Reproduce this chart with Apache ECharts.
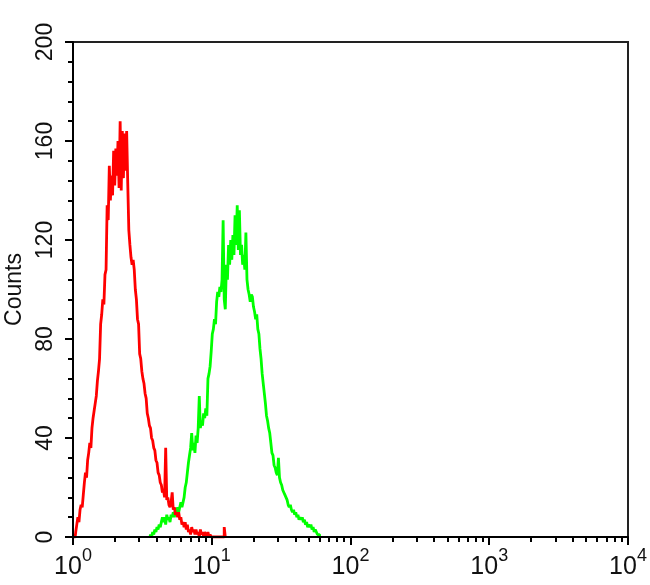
<!DOCTYPE html>
<html>
<head>
<meta charset="utf-8">
<script src="https://cdn.jsdelivr.net/npm/echarts@6/dist/echarts.min.js"></script>
<style>
html,body{margin:0;padding:0;background:#fff;}
#chart{width:650px;height:585px;}
</style>
</head>
<body>
<div id="chart"></div>
<script>
// Channel resolution: 128 channels per decade (log-amplified FCS channels)
var channelsPerDecade = 128;
// Red histogram counts, starting at channel 0
var redStartChannel = 0;
var redCounts = [0, 0, 0, 2, 5, 8, 6, 11, 13, 12, 17, 22, 26, 24, 31, 34, 38, 36, 44, 48,
  51, 54, 57, 63, 67, 72, 86, 90, 96, 94, 106, 108, 134, 128, 150, 136, 146, 138, 156, 142,
  157, 146, 160, 141, 168, 140, 164, 145, 163, 148, 164, 143, 124, 118, 113, 110, 112, 108, 100, 96,
  88, 86, 74, 72, 67, 64, 62, 58, 56, 50, 48, 45, 44, 40, 39, 36, 35, 31, 30, 26,
  25, 22, 21, 18, 19, 16, 36, 15, 16, 13, 12, 14, 18, 11, 12, 9, 10, 8, 10, 7,
  8, 5, 6, 4, 6, 3, 5, 2, 3, 1, 4, 2, 3, 1, 3, 1, 2, 0, 3, 1,
  2, 0, 2, 1, 0, 2, 0, 1, 0, 0, 0, 0, 0, 0, 0, 0, 0, 0, 0, 0, 4, 0];
// Green histogram counts, starting at channel 71
var greenStartChannel = 71;
var greenCounts = [0, 1, 0, 2, 1, 3, 2, 4, 3, 5, 4, 6, 8, 6, 8, 5, 9, 7, 8, 6,
  9, 8, 10, 8, 11, 9, 12, 10, 12, 14, 12, 14, 16, 20, 22, 26, 30, 33, 36, 42,
  35, 38, 34, 41, 38, 44, 57, 44, 47, 45, 50, 48, 52, 49, 64, 66, 69, 75, 82, 84,
  88, 86, 95, 99, 97, 101, 99, 104, 128, 96, 92, 110, 104, 118, 110, 120, 112, 122, 114, 130,
  118, 134, 116, 132, 114, 118, 110, 114, 108, 123, 104, 100, 98, 95, 98, 97, 93, 91, 88, 90,
  84, 82, 76, 72, 66, 62, 58, 54, 49, 47, 44, 42, 38, 34, 33, 29, 28, 26, 25, 32,
  24, 22, 21, 19, 18, 17, 16, 15, 13, 12, 13, 11, 10, 11, 9, 10, 8, 9, 7, 8,
  7, 8, 6, 7, 5, 6, 4, 5, 4, 5, 3, 4, 2, 3, 2, 1, 1, 0];
// Axis ticks
var xMajorTicks = [1, 10, 100, 1000, 10000];
var xMinorTicks = [2,3,4,5,6,7,8,9,20,30,40,50,60,70,80,90,200,300,400,500,600,700,800,900,2000,3000,4000,5000,6000,7000,8000,9000];
var yMin = 0, yMax = 200, yInterval = 40;

function toPairs(start, counts) {
  var out = [];
  for (var i = 0; i < counts.length; i++) {
    out.push([Math.pow(10, (start + i) / channelsPerDecade), counts[i]]);
  }
  return out;
}

var font = '"Liberation Sans", Arial, Helvetica, sans-serif';
var chart = echarts.init(document.getElementById('chart'), null, {renderer: 'canvas'});
chart.setOption({
  animation: false,
  backgroundColor: '#ffffff',
  grid: {
    left: 73, top: 42, right: 22, bottom: 48,
    containLabel: false, outerBoundsMode: 'none',
    show: true, borderColor: '#222', borderWidth: 2, backgroundColor: 'transparent'
  },
  xAxis: [{
    type: 'log', logBase: 10, min: 1, max: 10000, position: 'bottom', z: 10,
    axisLine: {show: true, onZero: false, lineStyle: {color: '#000', width: 2}},
    axisTick: {show: true, inside: false, length: 8, lineStyle: {color: '#000', width: 2}, customValues: xMajorTicks},
    axisLabel: {
      show: true, margin: 10, customValues: xMajorTicks,
      formatter: function (v) { return '{b|10}{s|' + Math.round(Math.log10(v)) + '}'; },
      rich: {
        b: {fontSize: 25, lineHeight: 40, color: '#111', fontFamily: font},
        s: {fontSize: 18, lineHeight: 18, verticalAlign: 'top', color: '#111', fontFamily: font}
      }
    },
    splitLine: {show: false}
  }, {
    type: 'log', logBase: 10, min: 1, max: 10000, position: 'bottom', offset: 0, z: 10,
    axisLine: {show: false},
    axisTick: {show: true, inside: false, length: 5, lineStyle: {color: '#000', width: 2}, customValues: xMinorTicks},
    axisLabel: {show: false},
    splitLine: {show: false}
  }],
  yAxis: [{
    type: 'value', min: yMin, max: yMax, interval: yInterval, position: 'left', z: 10,
    name: 'Counts', nameLocation: 'middle', nameRotate: 90, nameGap: 46,
    nameTextStyle: {fontSize: 23, color: '#111', fontFamily: font},
    axisLine: {show: true, onZero: false, lineStyle: {color: '#000', width: 2}},
    axisTick: {show: true, inside: false, length: 8, lineStyle: {color: '#000', width: 2}},
    minorTick: {show: true, splitNumber: 5, length: 5, lineStyle: {color: '#000', width: 2}},
    axisLabel: {show: true, rotate: 90, margin: 16, fontSize: 23, color: '#111', fontFamily: font},
    splitLine: {show: false},
    minorSplitLine: {show: false}
  }],
  series: [{
    type: 'line', xAxisIndex: 0, yAxisIndex: 0, step: 'middle', showSymbol: false, symbol: 'none',
    lineStyle: {color: '#ff0000', width: 2.8}, z: 3,
    data: toPairs(redStartChannel, redCounts)
  }, {
    type: 'line', xAxisIndex: 0, yAxisIndex: 0, step: 'middle', showSymbol: false, symbol: 'none',
    lineStyle: {color: '#00ff00', width: 2.8}, z: 2,
    data: toPairs(greenStartChannel, greenCounts)
  }]
});
</script>
</body>
</html>
